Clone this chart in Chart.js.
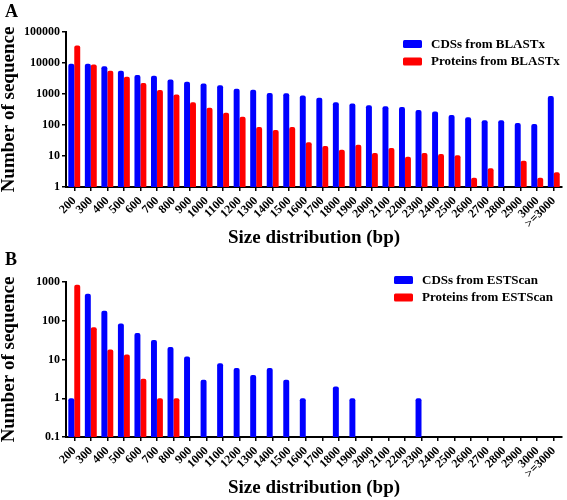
<!DOCTYPE html>
<html>
<head>
<meta charset="utf-8">
<script src="https://cdn.jsdelivr.net/npm/chart.js@4"></script>
<style>
  html, body { margin: 0; padding: 0; background: #fff; }
  .panel { position: relative; width: 567px; height: 250px; }
</style>
</head>
<body>
<div class="panel"><canvas id="chartA"></canvas></div>
<div class="panel"><canvas id="chartB"></canvas></div>
<script>
// Categorías (tamaño en bp)
const sizeLabels = ["200", "300", "400", "500", "600", "700", "800", "900", "1000", "1100",
  "1200", "1300", "1400", "1500", "1600", "1700", "1800", "1900", "2000", "2100",
  "2200", "2300", "2400", "2500", "2600", "2700", "2800", "2900", "3000", ">=3000"];

// Panel A: BLASTx
const cdsBlastx = [9500, 9500, 7800, 5600, 4100, 3900, 2950, 2500, 2200, 1900,
  1490, 1380, 1080, 1050, 900, 760, 540, 490, 430, 400,
  380, 305, 275, 210, 177, 141, 141, 116, 108, 860];
const proteinsBlastx = [37000, 9000, 5600, 3600, 2250, 1350, 970, 540, 360, 250,
  185, 86, 69, 86, 28, 21, 16, 23, 12.5, 18,
  9.5, 12.5, 11.5, 10.5, 2, 4, null, 7, 2, 3];
const yTicksA = [1, 10, 100, 1000, 10000, 100000];

// Panel B: ESTScan
const cdsEstscan = [1, 500, 180, 85, 48, 32, 21, 12, 3, 8,
  6, 4, 6, 3, 1, null, 2, 1, null, null,
  null, 1, null, null, null, null, null, null, null, null];
const proteinsEstscan = [850, 68, 18, 13.5, 3.2, 1, 1, null, null, null,
  null, null, null, null, null, null, null, null, null, null,
  null, null, null, null, null, null, null, null, null, null];
const yTicksB = [0.1, 1, 10, 100, 1000];

const serif = "'Liberation Serif', 'Times New Roman', serif";
const BLUE = "#0000ff";
const RED = "#ff0000";

// Letra del panel y leyenda dibujadas a mano
const decorPlugin = {
  id: "decor",
  afterDraw(chart, args, opts) {
    const ctx = chart.ctx;
    ctx.save();
    ctx.fillStyle = "#000";
    ctx.textAlign = "left";
    ctx.textBaseline = "alphabetic";
    ctx.font = "bold 18px " + serif;
    ctx.fillText(opts.letter, 5, opts.letterY);

    ctx.font = "bold 13px " + serif;
    ctx.textBaseline = "middle";
    chart.data.datasets.forEach((ds, i) => {
      const y = opts.legendY + i * 17.5;
      ctx.fillStyle = ds.backgroundColor;
      ctx.beginPath();
      ctx.roundRect(opts.legendX, y - 4, 19, 8, 1.5);
      ctx.fill();
      ctx.fillStyle = "#000";
      ctx.fillText(ds.label, opts.legendX + 28, y + 0.5);
    });
    ctx.restore();
  }
};

function crearGrafico(id, serie1, serie2, nombre1, nombre2, yTicks, decor) {
  const ctx = document.getElementById(id);
  return new Chart(ctx, {
    type: "bar",
    data: {
      labels: sizeLabels,
      datasets: [
        { label: nombre1, data: serie1, backgroundColor: BLUE, borderRadius: 2 },
        { label: nombre2, data: serie2, backgroundColor: RED, borderRadius: 2 },
      ],
    },
    options: {
      responsive: true,
      maintainAspectRatio: false,
      animation: false,
      devicePixelRatio: 1,
      categoryPercentage: 0.72,
      barPercentage: 1,
      layout: { padding: { left: 0, right: 2, top: 32, bottom: 0 } },
      plugins: {
        legend: { display: false },
        tooltip: { enabled: false },
        decor: decor,
      },
      scales: {
        x: {
          grid: { display: true, offset: false, drawOnChartArea: false, drawTicks: true, tickLength: 4, color: "#000", lineWidth: 1.5 },
          border: { display: true, color: "#000", width: 2 },
          ticks: {
            autoSkip: false, maxRotation: 45, minRotation: 45, padding: 3,
            color: "#000", font: { family: serif, size: 12, weight: "bold" },
          },
          title: {
            display: true, text: "Size distribution (bp)", color: "#000",
            font: { family: serif, size: 19, weight: "bold" }, padding: { top: 0, bottom: 1 },
          },
          afterFit: (scale) => { scale.height = 63; },
        },
        y: {
          type: "logarithmic",
          min: yTicks[0],
          max: yTicks[yTicks.length - 1],
          grid: { display: true, drawOnChartArea: false, drawTicks: true, tickLength: 4, color: "#000", lineWidth: 1.5 },
          border: { display: true, color: "#000", width: 2 },
          afterBuildTicks: (scale) => { scale.ticks = yTicks.map(v => ({ value: v })); },
          ticks: {
            padding: 2, color: "#000",
            font: { family: serif, size: 12, weight: "bold" },
            callback: (v) => String(v),
          },
          title: {
            display: true, text: "Number of sequence", color: "#000",
            font: { family: serif, size: 19, weight: "bold", lineHeight: 1 }, padding: 0,
          },
          afterFit: (scale) => { scale.width = 66; },
        },
      },
    },
    plugins: [decorPlugin],
  });
}

document.addEventListener("DOMContentLoaded", () => {
  crearGrafico("chartA", cdsBlastx, proteinsBlastx, "CDSs from BLASTx", "Proteins from BLASTx", yTicksA,
    { letter: "A", letterY: 17, legendX: 403, legendY: 44 });
  crearGrafico("chartB", cdsEstscan, proteinsEstscan, "CDSs from ESTScan", "Proteins from ESTScan", yTicksB,
    { letter: "B", letterY: 15, legendX: 394, legendY: 30 });
});
</script>
</body>
</html>
